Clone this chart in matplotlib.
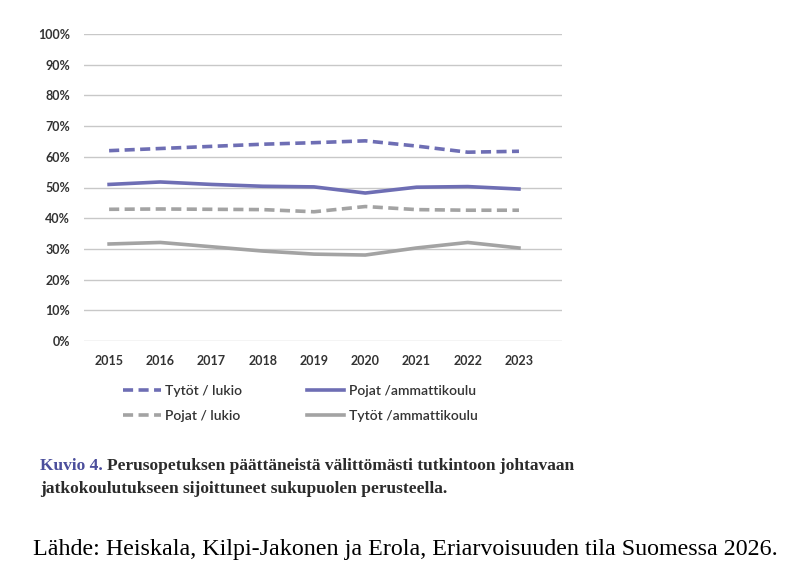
import matplotlib
matplotlib.use("Agg")
import matplotlib.pyplot as plt
from matplotlib.ticker import MultipleLocator, PercentFormatter

years = [2015, 2016, 2017, 2018, 2019, 2020, 2021, 2022, 2023]
tytot_lukio = [62.0, 62.7, 63.4, 64.1, 64.6, 65.2, 63.5, 61.5, 61.8]
pojat_amm = [51.0, 51.8, 51.0, 50.4, 50.2, 48.2, 50.1, 50.3, 49.5]
pojat_lukio = [42.9, 43.0, 42.9, 42.8, 42.1, 43.8, 42.8, 42.6, 42.6]
tytot_amm = [31.6, 32.1, 30.7, 29.3, 28.3, 28.0, 30.3, 32.1, 30.3]

purple = "#6e6eb4"
gray = "#a3a3a3"
tick_col = "#333333"

fig = plt.figure(figsize=(8.11, 5.82), dpi=100)
ax = fig.add_axes([84 / 811, 1 - 341 / 582, (562 - 84) / 811, (341 - 34) / 582])

lw = 2.6
dash = (2.8, 1.5)
l1, = ax.plot(years, tytot_lukio, color=purple, lw=lw, dashes=dash, label="Tytöt / lukio")
l2, = ax.plot(years, pojat_amm, color=purple, lw=lw, label="Pojat /ammattikoulu")
l3, = ax.plot(years, pojat_lukio, color=gray, lw=lw, dashes=dash, label="Pojat / lukio")
l4, = ax.plot(years, tytot_amm, color=gray, lw=lw, label="Tytöt /ammattikoulu")

ax.set_xlim(2014.51, 2023.84)
ax.set_ylim(0, 100)
ax.yaxis.set_major_locator(MultipleLocator(10))
ax.yaxis.set_major_formatter(PercentFormatter(decimals=0))
ax.set_xticks(years)
ax.grid(axis="y", color="#c8c8c8", lw=1.0)
ax.set_axisbelow(True)
for s in ax.spines.values():
    s.set_visible(False)
ax.tick_params(length=0, labelsize=9, labelcolor=tick_col)
ax.tick_params(axis="y", pad=10)
ax.tick_params(axis="x", pad=10)
for lab in ax.get_xticklabels() + ax.get_yticklabels():
    lab.set_fontfamily("Lato")
    lab.set_fontweight("bold")

leg = fig.legend(handles=[l1, l3, l2, l4], ncol=2, loc="upper left",
                 bbox_to_anchor=(123 / 811, 1 - 385 / 582), frameon=False,
                 borderpad=0, borderaxespad=0, handlelength=2.7, handletextpad=0.35,
                 columnspacing=4.65, labelspacing=0.95,
                 prop={"family": "Lato", "size": 10, "weight": "semibold"})
for t in leg.get_texts():
    t.set_color(tick_col)

t1 = fig.text(40 / 811, 1 - 470 / 582, "Kuvio 4.", color="#4c4f9c",
              family="Liberation Serif", fontsize=12.5, fontweight="bold", va="baseline")
ax.annotate("Perusopetuksen päättäneistä välittömästi tutkintoon johtavaan",
            xy=(1, 0), xycoords=t1, xytext=(3, 0), textcoords="offset points",
            va="bottom", ha="left", color="#2b2b2b", family="Liberation Serif",
            fontsize=12.5, fontweight="bold", annotation_clip=False)
fig.text(40 / 811, 1 - 493 / 582, "jatkokoulutukseen sijoittuneet sukupuolen perusteella.",
         color="#2b2b2b", family="Liberation Serif", fontsize=12.5, fontweight="bold",
         va="baseline")

fig.text(33 / 811, 1 - 550 / 582,
         "Lähde: Heiskala, Kilpi-Jakonen ja Erola, Eriarvoisuuden tila Suomessa 2026.",
         color="black", family="Liberation Serif", fontsize=17.3, va="center")

fig.savefig("out.png", dpi=100)
